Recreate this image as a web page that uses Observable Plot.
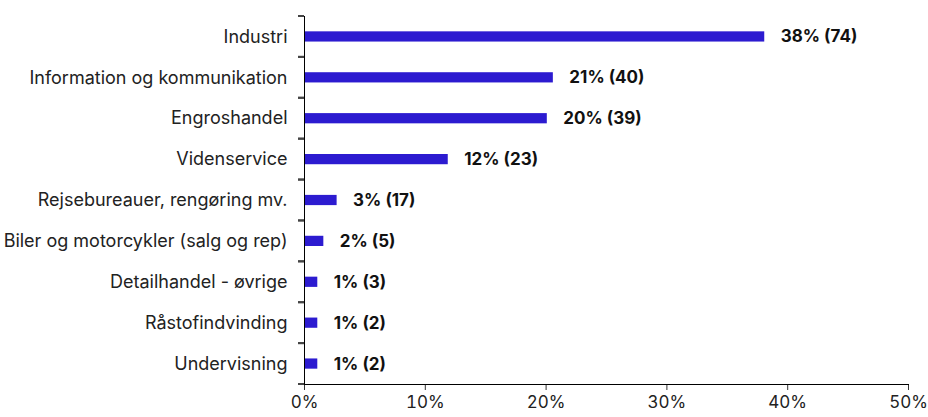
<!DOCTYPE html>
<html><head><meta charset="utf-8">
<script src="https://cdn.jsdelivr.net/npm/d3@7"></script>
<script src="https://cdn.jsdelivr.net/npm/@observablehq/plot@0.6"></script>
<style>
body{margin:0;background:#fff;}
#chart svg{font-family:Inter, "Noto Sans", sans-serif;}
</style></head>
<body><div id="chart"></div>
<script>
const categories = ["Industri","Information og kommunikation","Engroshandel","Videnservice","Rejsebureauer, rengøring mv.","Biler og motorcykler (salg og rep)","Detailhandel - øvrige","Råstofindvinding","Undervisning"];
const shares = [38.1, 20.6, 20.1, 11.9, 2.7, 1.6, 1.1, 1.1, 1.1];
const valueLabels = ["38% (74)","21% (40)","20% (39)","12% (23)","3% (17)","2% (5)","1% (3)","1% (2)","1% (2)"];
const xTicks = [0,10,20,30,40,50];

const data = categories.map((c,i)=>({cat:c, share:shares[i], label:valueLabels[i]}));
const H = 417, mt = 16, mb = 33;
const blue = "#2c1bd0";

// band-boundary tick marks on the left axis
function boundaryTicks(index, scales, values, dimensions) {
  const {x, y} = scales;
  const bw = typeof y.bandwidth === "function" ? y.bandwidth() : y.bandwidth;
  const step = (dimensions.height - dimensions.marginTop - dimensions.marginBottom) / categories.length;
  const g = d3.create("svg:g");
  const x0 = x(0);
  categories.forEach(c => {
    const yc = y(c) + bw / 2;
    [yc - step / 2, yc + step / 2].forEach(yy => {
      g.append("line")
        .attr("x1", x0 - 6).attr("x2", x0)
        .attr("y1", yy).attr("y2", yy)
        .attr("stroke", "#444").attr("stroke-width", 2);
    });
  });
  return g.node();
}

const chart = Plot.plot({
  width: 928, height: H,
  marginLeft: 304, marginRight: 20, marginTop: mt, marginBottom: mb,
  style: {fontSize: "17px", color: "#222", background: "#fff"},
  x: {domain: [0,50], label: null},
  y: {domain: categories, paddingInner: 0.75, paddingOuter: 0.375, round: false, label: null},
  marks: [
    Plot.axisX({ticks: xTicks, tickFormat: d => d + "%", tickSize: 6, tickPadding: 5, fontSize: 17, fill: "#222", stroke: "#333", label: null}),
    Plot.axisY({tickSize: 0, tickPadding: 17, fontSize: 18, fill: "#222", label: null}),
    boundaryTicks,
    Plot.barX(data, {y: "cat", x: "share", fill: blue}),
    Plot.text(data, {y: "cat", x: "share", text: "label", dx: 16, textAnchor: "start", fontWeight: "bold", fontSize: 17, fill: "#111"}),
    Plot.ruleX([0], {stroke: "#000"}),
    Plot.frame({anchor: "bottom", stroke: "#000"})
  ]
});
document.getElementById("chart").append(chart);
</script></body></html>
